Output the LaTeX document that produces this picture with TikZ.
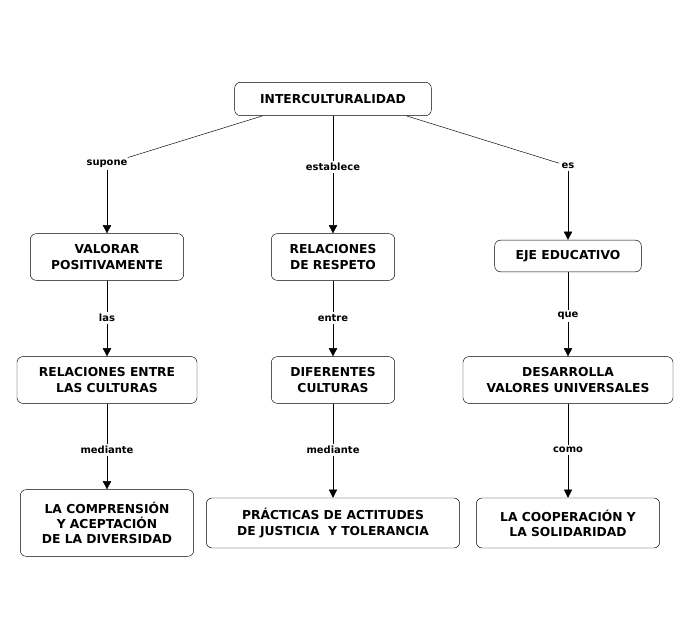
\documentclass[tikz,border=0pt]{standalone}
\usepackage{fontspec}
\setmainfont{DejaVu Sans}
\usepackage{tikz}
\usetikzlibrary{arrows.meta, positioning}

\begin{document}
\begin{tikzpicture}[
        x=0.03cm, y=-0.03cm,
        concept/.style={rectangle, draw, rounded corners=5pt, align=center, inner sep=4pt,
            font=\fontsize{10.5}{13}\selectfont\bfseries},
        link/.style={fill=white, inner sep=2pt, font=\fontsize{8.5}{10}\selectfont\bfseries},
        arr/.style={-{Triangle[length=7pt, width=7pt]}}
    ]
    \useasboundingbox (0,0) rectangle (695,624);

    % raiz
    \node[concept, minimum width=5.9cm, minimum height=1cm] (root) at (333,99) {INTERCULTURALIDAD};

    % primer nivel
    \node[link] (supone) at (107,164) {supone};
    \node[link] (establece) at (333,167) {establece};
    \node[link] (es) at (568,166) {es};

    \node[concept, minimum width=4.6cm, minimum height=1.4cm] (valorar) at (107,257) {VALORAR\\POSITIVAMENTE};
    \node[concept, minimum width=3.7cm, minimum height=1.4cm] (respeto) at (333,257) {RELACIONES\\DE RESPETO};
    \node[concept, minimum width=4.4cm, minimum height=0.95cm] (eje) at (568,256) {EJE EDUCATIVO};

    % segundo nivel
    \node[link] (las) at (107,318) {las};
    \node[link] (entre) at (333,318) {entre};
    \node[link] (que) at (568,316) {que};

    \node[concept, minimum width=5.4cm, minimum height=1.4cm] (relaciones) at (107,380) {RELACIONES ENTRE\\LAS CULTURAS};
    \node[concept, minimum width=3.7cm, minimum height=1.4cm] (culturas) at (333,380) {DIFERENTES\\CULTURAS};
    \node[concept, minimum width=6.3cm, minimum height=1.4cm] (desarrolla) at (568,380) {DESARROLLA\\VALORES UNIVERSALES};

    % tercer nivel
    \node[link] (mediante1) at (107,450) {mediante};
    \node[link] (mediante2) at (333,450) {mediante};
    \node[link] (como) at (568,450) {como};

    \node[concept, minimum width=5.2cm, minimum height=2cm] (comprension) at (107,523) {LA COMPRENSIÓN\\Y ACEPTACIÓN\\DE LA DIVERSIDAD};
    \node[concept, minimum width=7.6cm, minimum height=1.5cm] (practicas) at (333,523) {PRÁCTICAS DE ACTITUDES\\DE JUSTICIA\ \ Y TOLERANCIA};
    \node[concept, minimum width=5.5cm, minimum height=1.5cm] (cooperacion) at (568,523) {LA COOPERACIÓN Y\\LA SOLIDARIDAD};

    % conectores
    \draw (root.south west) ++(28,0) coordinate (r1);
    \draw (root.south east) ++(-25,0) coordinate (r3);
    \draw (r1) -- (supone);
    \draw (root) -- (establece);
    \draw (r3) -- (es);
    \draw[arr] (supone) -- (valorar);
    \draw[arr] (establece) -- (respeto);
    \draw[arr] (es) -- (eje);

    \draw (valorar) -- (las);
    \draw (respeto) -- (entre);
    \draw (eje) -- (que);
    \draw[arr] (las) -- (relaciones);
    \draw[arr] (entre) -- (culturas);
    \draw[arr] (que) -- (desarrolla);

    \draw (relaciones) -- (mediante1);
    \draw (culturas) -- (mediante2);
    \draw (desarrolla) -- (como);
    \draw[arr] (mediante1) -- (comprension);
    \draw[arr] (mediante2) -- (practicas);
    \draw[arr] (como) -- (cooperacion);
\end{tikzpicture}
\end{document}
